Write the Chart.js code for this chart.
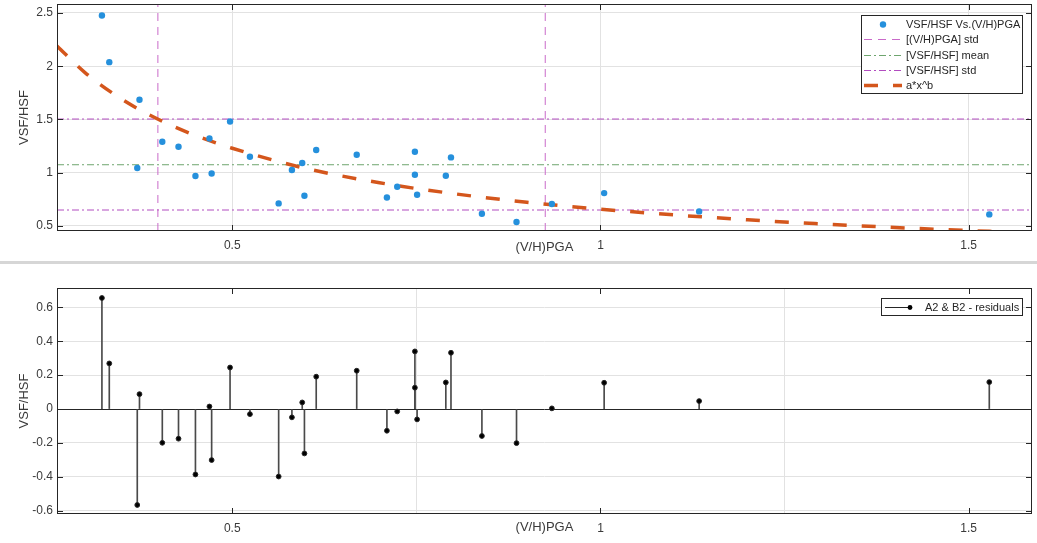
<!DOCTYPE html>
<html>
<head>
<meta charset="utf-8">
<script src="https://cdn.jsdelivr.net/npm/chart.js@4.4.1/dist/chart.umd.min.js"></script>
<style>
  body { margin: 0; background: #fff; width: 1037px; height: 543px; overflow: hidden; position: relative; }
  canvas { position: absolute; left: 0; }
  #sep { position: absolute; left: 0; top: 261px; width: 1037px; height: 3px; background: #d6d6d6; }
</style>
</head>
<body>
<canvas id="fitChart" width="1037" height="262" style="top:0"></canvas>
<div id="sep"></div>
<canvas id="residChart" width="1037" height="279" style="top:264px"></canvas>
<script>
// (V/H)PGA of each record, VSF/HSF measured, and the residual of the a*x^b fit
const pgaX = [0.323, 0.333, 0.371, 0.374, 0.405, 0.427, 0.450, 0.469, 0.472, 0.497,
              0.524, 0.563, 0.581, 0.595, 0.598, 0.614, 0.669, 0.710, 0.724, 0.748,
              0.748, 0.751, 0.790, 0.797, 0.839, 0.886, 0.934, 1.005, 1.134, 1.528];
const vsfY = [2.476, 2.038, 1.044, 1.685, 1.291, 1.244, 0.969, 1.322, 0.993, 1.481,
              1.150, 0.712, 1.025, 1.091, 0.784, 1.213, 1.169, 0.768, 0.869, 1.197,
              0.981, 0.794, 0.972, 1.144, 0.615, 0.537, 0.706, 0.809, 0.637, 0.609];
const residY = [0.655, 0.269, -0.566, 0.088, -0.199, -0.175, -0.386, 0.015, -0.301, 0.245,
                -0.030, -0.398, -0.049, 0.039, -0.262, 0.191, 0.226, -0.128, -0.014, 0.340,
                0.126, -0.061, 0.157, 0.332, -0.159, -0.201, 0.004, 0.155, 0.047, 0.159];

// fitted curve a*x^b
const fitX = [0.262, 0.30, 0.35, 0.40, 0.45, 0.50, 0.60, 0.70, 0.80, 0.90, 1.00, 1.10, 1.20, 1.30, 1.40, 1.50, 1.55];
const fitY = [2.19, 1.94, 1.69, 1.50, 1.35, 1.23, 1.04, 0.906, 0.804, 0.723, 0.658, 0.604, 0.558, 0.520, 0.486, 0.457, 0.444];

// reference lines
const pgaStd = [0.399, 0.925];
const vsfMean = 1.075;
const vsfStd = [0.650, 1.504];

// axes
const xRange = [0.262, 1.586];
const xTicks = [0.5, 1, 1.5];
const yTopRange = [0.453, 2.584];
const yTopTicks = [0.5, 1, 1.5, 2, 2.5];
const yBotRange = [-0.619, 0.714];
const yBotTicks = [-0.6, -0.4, -0.2, 0, 0.2, 0.4, 0.6];

const FONT = '"Liberation Sans", Arial, sans-serif';
const INK = '#262626';
const GRID = '#e2e2e2';

const pts = (xs, ys) => xs.map((x, i) => ({ x: x, y: ys[i] }));

// box around plot area and inward tick marks
const frame = {
  id: 'frame',
  afterDatasetsDraw(chart) {
    const { ctx, chartArea: a, scales: { x, y } } = chart;
    ctx.save();
    ctx.strokeStyle = INK;
    ctx.lineWidth = 1;
    ctx.strokeRect(a.left + 0.5, a.top + 0.5, a.width - 1, a.height - 1);
    ctx.beginPath();
    x.ticks.forEach(t => {
      const p = Math.round(x.getPixelForValue(t.value)) + 0.5;
      ctx.moveTo(p, a.top); ctx.lineTo(p, a.top + 6);
      ctx.moveTo(p, a.bottom); ctx.lineTo(p, a.bottom - 6);
    });
    y.ticks.forEach(t => {
      const p = Math.round(y.getPixelForValue(t.value)) + 0.5;
      ctx.moveTo(a.left, p); ctx.lineTo(a.left + 6, p);
      ctx.moveTo(a.right, p); ctx.lineTo(a.right - 6, p);
    });
    ctx.stroke();
    ctx.restore();
  }
};

// matlab style legend box in the upper right
const boxLegend = {
  id: 'boxLegend',
  afterDraw(chart, args, o) {
    const ctx = chart.ctx;
    const items = chart.data.datasets.filter(d => d.label);
    ctx.save();
    ctx.fillStyle = '#fff';
    ctx.fillRect(o.x, o.y, o.w, o.h);
    ctx.strokeStyle = INK;
    ctx.lineWidth = 1;
    ctx.strokeRect(o.x + 0.5, o.y + 0.5, o.w, o.h);
    ctx.font = '11px ' + FONT;
    ctx.textBaseline = 'middle';
    items.forEach((d, i) => {
      const cy = Math.round(o.y + o.pad + i * o.rowH + o.rowH / 2) + 0.5;
      const x0 = o.x + o.lineStart, x1 = x0 + o.lineLen;
      if (d.showLine || d.stem) {
        ctx.strokeStyle = d.borderColor;
        ctx.lineWidth = d.borderWidth;
        ctx.setLineDash(d.borderDash || []);
        ctx.beginPath(); ctx.moveTo(x0, cy); ctx.lineTo(x1, cy); ctx.stroke();
        ctx.setLineDash([]);
      }
      if (!d.showLine) {
        ctx.fillStyle = d.backgroundColor;
        ctx.beginPath();
        ctx.arc(d.stem ? x1 : (x0 + x1) / 2, cy, d.pointRadius, 0, Math.PI * 2);
        ctx.fill();
      }
      ctx.fillStyle = INK;
      ctx.fillText(d.label, o.x + o.textX, cy);
    });
    ctx.restore();
  }
};

function axes(yRange, yTicks, yTitle, xTitleGap, zeroLine) {
  return {
    x: {
      type: 'linear', min: xRange[0], max: xRange[1], offset: false,
      afterBuildTicks: s => { s.ticks = xTicks.map(v => ({ value: v })); },
      afterFit: s => { s.height = xTitleGap.h; s.paddingLeft = 0; s.paddingRight = 0; },
      grid: { color: GRID, drawTicks: false },
      border: { display: false },
      ticks: { padding: 7, color: '#3a3a3a', font: { family: FONT, size: 12 }, maxRotation: 0, callback: v => String(v) },
      title: { display: true, text: '(V/H)PGA', color: '#3a3a3a', font: { family: FONT, size: 13 }, padding: { top: 0, bottom: xTitleGap.pb } }
    },
    y: {
      min: yRange[0], max: yRange[1],
      afterBuildTicks: s => { s.ticks = yTicks.map(v => ({ value: v })); },
      afterFit: s => { s.width = 57; s.paddingTop = 0; s.paddingBottom = 0; },
      grid: {
        drawTicks: false,
        color: c => (zeroLine && c.tick && c.tick.value === 0) ? INK : GRID
      },
      border: { display: false },
      ticks: { padding: 4, color: '#3a3a3a', font: { family: FONT, size: 12 }, callback: v => String(v) },
      title: { display: true, text: yTitle, color: '#3a3a3a', font: { family: FONT, size: 13 }, padding: { top: 17, bottom: 0 } }
    }
  };
}

const lineDs = (data, color, dash, label) => ({
  label: label, data: data, showLine: true, pointRadius: 0, borderColor: color,
  borderWidth: 1, borderDash: dash, tension: 0, fill: false
});

new Chart(document.getElementById('fitChart'), {
  type: 'scatter',
  data: {
    datasets: [
      { label: 'VSF/HSF Vs.(V/H)PGA', data: pts(pgaX, vsfY), backgroundColor: '#2590dc', borderWidth: 0, pointRadius: 3.2, showLine: false, order: 0 },
      Object.assign(lineDs([{ x: pgaStd[0], y: yTopRange[0] }, { x: pgaStd[0], y: yTopRange[1] }], '#c96ac9', [8, 6], '[(V/H)PGA] std'), { order: 3 }),
      Object.assign(lineDs([{ x: xRange[0], y: vsfMean }, { x: xRange[1], y: vsfMean }], '#6ea56e', [7, 3, 2, 3], '[VSF/HSF] mean'), { order: 3 }),
      Object.assign(lineDs([{ x: xRange[0], y: vsfStd[0] }, { x: xRange[1], y: vsfStd[0] }], '#b24cc0', [7, 3, 2, 3], '[VSF/HSF] std'), { order: 3 }),
      { label: 'a*x^b', data: pts(fitX, fitY), showLine: true, pointRadius: 0, borderColor: '#d4561c', borderWidth: 3.5,
        borderDash: [14, 15], cubicInterpolationMode: 'monotone', order: 1 },
      Object.assign(lineDs([{ x: pgaStd[1], y: yTopRange[0] }, { x: pgaStd[1], y: yTopRange[1] }], '#c96ac9', [8, 6]), { order: 3 }),
      Object.assign(lineDs([{ x: xRange[0], y: vsfStd[1] }, { x: xRange[1], y: vsfStd[1] }], '#b24cc0', [7, 3, 2, 3]), { order: 3 })
    ]
  },
  options: {
    responsive: false,
    animation: false,
    layout: { padding: { top: 4, right: 5, left: 0, bottom: 0 } },
    scales: axes(yTopRange, yTopTicks, 'VSF/HSF', { h: 31, pb: 7 }, false),
    plugins: {
      legend: { display: false },
      tooltip: { enabled: false },
      boxLegend: { x: 861, y: 15, w: 161, h: 78, pad: 1.4, rowH: 15.25, lineStart: 3, lineLen: 38, textX: 45 }
    }
  },
  plugins: [frame, boxLegend]
});

new Chart(document.getElementById('residChart'), {
  type: 'scatter',
  data: {
    datasets: [
      { label: 'A2 & B2 - residuals', stem: true, data: pts(pgaX, residY), backgroundColor: '#000', borderColor: INK,
        borderWidth: 1, pointRadius: 2.4, showLine: false, order: 0 },
      { type: 'bar', data: pts(pgaX, residY), backgroundColor: '#4a4a4a', barThickness: 1, order: 1 }
    ]
  },
  options: {
    responsive: false,
    animation: false,
    layout: { padding: { top: 24, right: 5, left: 0, bottom: 0 } },
    scales: axes(yBotRange, yBotTicks, 'VSF/HSF', { h: 29, pb: 8 }, true),
    plugins: {
      legend: { display: false },
      tooltip: { enabled: false },
      boxLegend: { x: 881, y: 34, w: 141, h: 17, pad: 0, rowH: 17, lineStart: 4, lineLen: 25, textX: 44 }
    }
  },
  plugins: [frame, boxLegend]
});
</script>
</body>
</html>
